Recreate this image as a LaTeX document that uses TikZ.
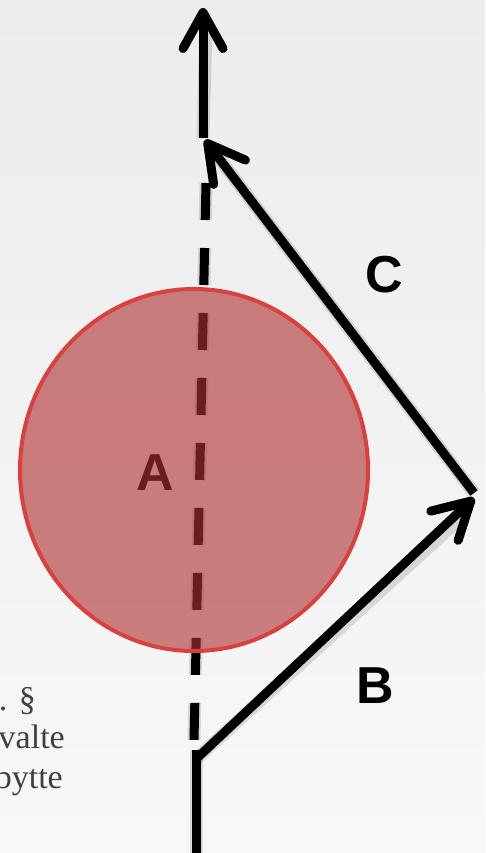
\documentclass[tikz,border=0pt]{standalone}
\usepackage{fontspec}
\setmainfont{Liberation Serif}
\newfontfamily\labelfont{Liberation Sans}
\usetikzlibrary{arrows.meta}
\definecolor{bgtop}{RGB}{236,236,236}
\definecolor{bgbot}{RGB}{248,248,248}
\definecolor{ringred}{RGB}{217,64,64}
\definecolor{fillred}{RGB}{175,49,49}
\definecolor{txtgray}{RGB}{64,64,64}
\tikzset{
  vecline/.style={line width=9pt, line cap=butt, draw=black},
  vecarrow/.style={vecline, -{Straight Barb[length=36pt,width=40pt,round]}},
  dashline/.style={line width=9pt, draw=black, dash pattern=on 37pt off 28pt},
  shadowline/.style={draw=black, opacity=0.12, line width=13pt},
  biglabel/.style={font=\labelfont\bfseries\fontsize{52}{52}\selectfont, inner sep=0pt, text=black},
  sidetext/.style={font=\fontsize{34}{34}\selectfont, text=txtgray, inner sep=0pt, anchor=base east},
  ring/.style={draw=ringred, line width=4pt, fill=fillred, fill opacity=0.61}
}
\begin{document}
\begin{tikzpicture}[x=1pt,y=-1pt]
\useasboundingbox (0,0) rectangle (485,853);
\clip (0,0) rectangle (485,853);
\shade[top color=bgtop, bottom color=bgbot] (0,0) rectangle (485,853);

% coordinates
\coordinate (top) at (203,8);
\coordinate (topbase) at (203,138);
\coordinate (ctip) at (205,140);
\coordinate (cstart) at (474,493);
\coordinate (btip) at (474,498);
\coordinate (bstart) at (196,759);
\coordinate (vtop) at (196,750);
\coordinate (bottom) at (196,853);
\coordinate (dtop) at (206,183);
\coordinate (dbot) at (194,740);

% side text (cut off at the left edge, as in the reference)
\node[sidetext] (t1) at (36,710) {1. §};
\node[sidetext] (t2) at (65,748) {valte};
\node[sidetext] (t3) at (63,788) {bytte};

% soft shadows
\begin{scope}[shift={(3,5)}]
  \draw[shadowline] (topbase) -- (203,20);
  \draw[shadowline] (cstart) -- (215,152);
  \draw[shadowline] (bstart) -- (462,509);
  \draw[shadowline] (vtop) -- (bottom);
  \draw[shadowline, dash pattern=on 37pt off 28pt] (dtop) -- (dbot);
\end{scope}

% dashed line and label A (under the translucent circle)
\draw[dashline] (dtop) -- (dbot);
\node[biglabel] (A) at (155,473) {A};

% circle
\draw[ring] (194,470) ellipse [x radius=174, y radius=181];

% solid vectors
\draw[vecline] (vtop) -- (bottom);
\draw[vecarrow] (topbase) -- (top);
\draw[vecarrow] (cstart) -- (ctip);
\draw[vecarrow] (bstart) -- (btip);

% labels
\node[biglabel] (C) at (384,275) {C};
\node[biglabel] (B) at (375,686) {B};
\end{tikzpicture}
\end{document}
